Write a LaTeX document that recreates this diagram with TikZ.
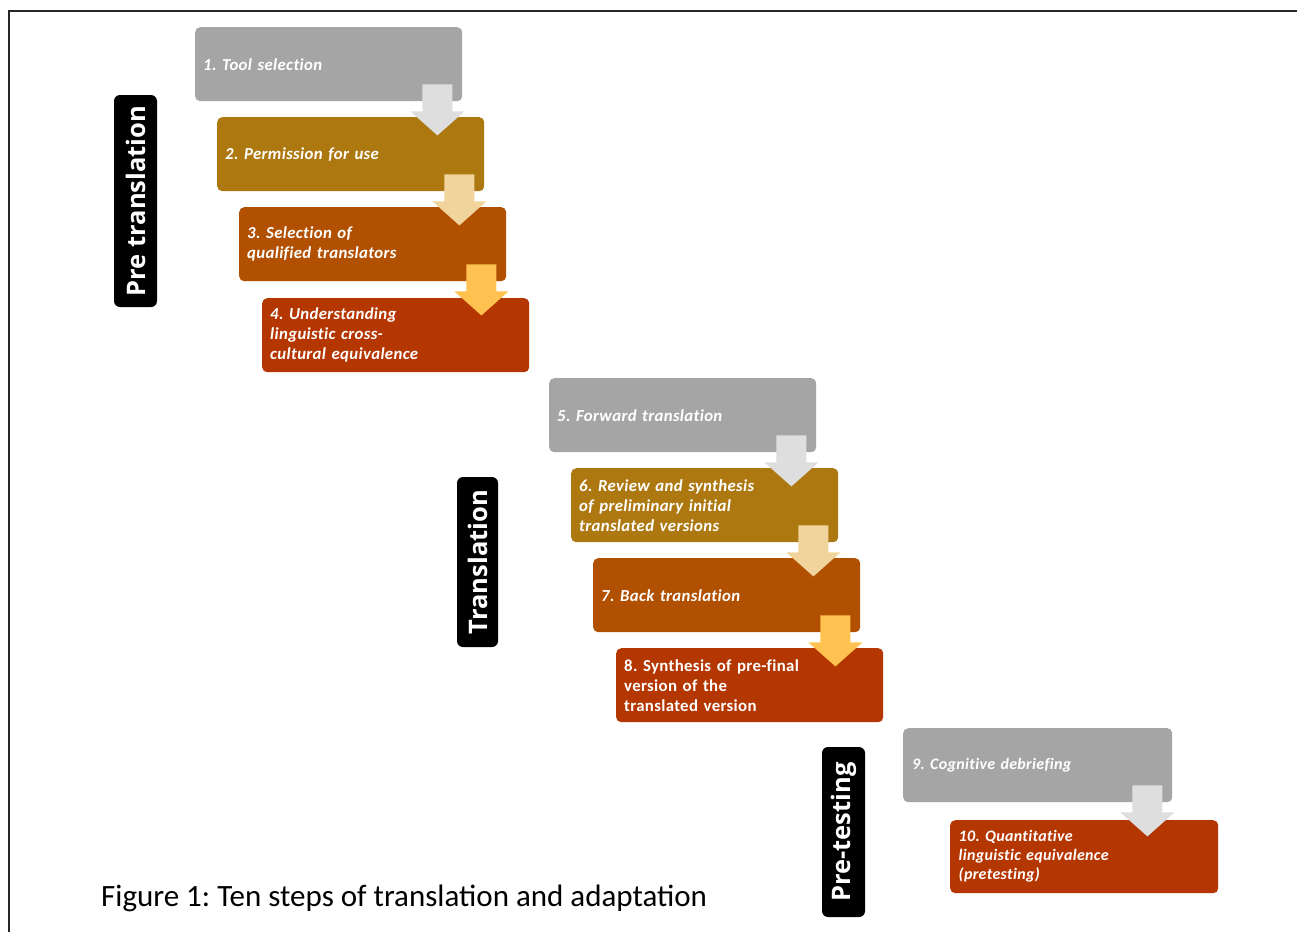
\documentclass[tikz,border=0pt]{standalone}
\usepackage{fontspec}
\setmainfont{Carlito}
\newfontfamily\stepfont[LetterSpace=2,Ligatures=NoCommon]{Carlito}
\newfontfamily\labfont{Open Sans}
\usetikzlibrary{calc}
\frenchspacing
\definecolor{boxgray}{HTML}{A5A5A5}
\definecolor{boxgold}{HTML}{AD7810}
\definecolor{boxbrown}{HTML}{B05000}
\definecolor{boxred}{HTML}{B43600}
\definecolor{arrgray}{HTML}{DEDEDE}
\definecolor{arrtan}{HTML}{F0D49C}
\definecolor{arrgold}{HTML}{FFC14F}
\tikzset{
  stepbox/.style={anchor=north west, rounded corners=5pt, minimum width=267pt, minimum height=74pt,
    text width=251pt, inner xsep=7pt, align=left, text=white,
    font=\stepfont\fontsize{16.8pt}{20pt}\selectfont\bfseries\itshape},
  phase/.style={fill=black, rounded corners=6pt, rotate=90, text=white, inner sep=0pt,
    font=\labfont\fontsize{25.5pt}{30pt}\selectfont\bfseries}
}
\newcommand{\blockarr}[2]{%
  \fill[#2] ($(#1.south east)+(-40,-17)$) -- ($(#1.south east)+(-10,-17)$) --
    ($(#1.south east)+(-10,10)$) -- ($(#1.south east)+(2,10)$) --
    ($(#1.south east)+(-25,34)$) -- ($(#1.south east)+(-52,10)$) --
    ($(#1.south east)+(-40,10)$) -- cycle;}
\begin{document}
\begin{tikzpicture}[x=1pt,y=-1pt]
\useasboundingbox (0,0) rectangle (1297,932);
\fill[white] (0,0) rectangle (1297,932);
\draw[line width=1.3pt, draw=black!85] (9,932) -- (9,11) -- (1297,11);
% phase labels
\node[phase, minimum width=212pt, minimum height=43pt] (p1) at (135.5,201) {Pre translation};
\node[phase, minimum width=170pt, minimum height=41pt] (p2) at (477.5,562) {Translation};
\node[phase, minimum width=170pt, minimum height=43pt] (p3) at (843.5,832) {Pre-testing};
% boxes
\node[stepbox, fill=boxgray] (b1) at (195,27) {1. Tool selection};
\node[stepbox, fill=boxgold] (b2) at (217,117) {2. Permission for use};
\node[stepbox, fill=boxbrown] (b3) at (239,207) {3. Selection of\\qualified translators};
\node[stepbox, fill=boxred] (b4) at (262,298) {4. Understanding\\linguistic cross-\\cultural equivalence};
\node[stepbox, fill=boxgray] (b5) at (549,378) {5. Forward translation};
\node[stepbox, fill=boxgold] (b6) at (571,468) {6. Review and synthesis\\of preliminary initial\\translated versions};
\node[stepbox, fill=boxbrown] (b7) at (593,558) {7. Back translation};
\node[stepbox, fill=boxred, font=\stepfont\fontsize{16.8pt}{20pt}\selectfont\bfseries] (b8) at (616,648) {8. Synthesis of pre-final\\version of the\\translated version};
\node[stepbox, fill=boxgray, minimum width=269pt, font=\stepfont\fontsize{16pt}{19pt}\selectfont\bfseries\itshape] (b9) at (903,728) {9. Cognitive debriefing};
\node[stepbox, fill=boxred, minimum width=268pt, minimum height=73pt, font=\stepfont\fontsize{16pt}{19pt}\selectfont\bfseries\itshape] (b10) at (950,820) {10. Quantitative\\linguistic equivalence\\(pretesting)};
% arrows
\blockarr{b1}{arrgray}
\blockarr{b2}{arrtan}
\blockarr{b3}{arrgold}
\blockarr{b5}{arrgray}
\blockarr{b6}{arrtan}
\blockarr{b7}{arrgold}
\blockarr{b9}{arrgray}
% caption
\node[anchor=west, inner sep=0pt, font=\fontsize{31pt}{36pt}\selectfont] (cap) at (101,898) {Figure 1: Ten steps of translation and adaptation};
\end{tikzpicture}
\end{document}
